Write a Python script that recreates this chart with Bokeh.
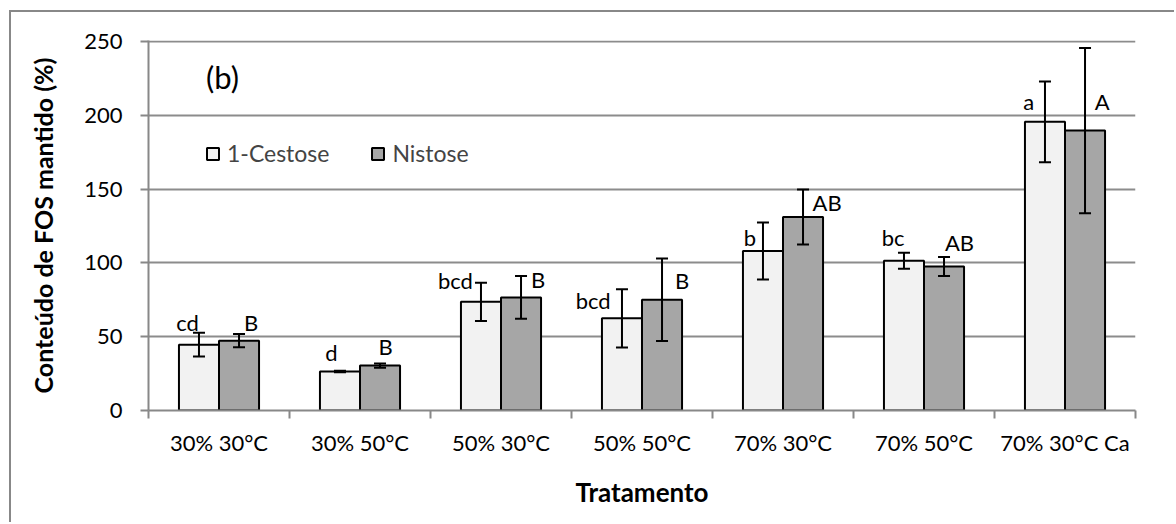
from bokeh.plotting import figure
from bokeh.models import (ColumnDataSource, FixedTicker, Whisker, TeeHead,
                          Label, LabelSet, Range1d)
from bokeh.core.properties import value
from bokeh.embed import file_html
from bokeh.resources import INLINE

# Treatments and retained FOS content (%) with error bars
treatments = ["30% 30°C", "30% 50°C", "50% 30°C", "50% 50°C",
              "70% 30°C", "70% 50°C", "70% 30°C Ca"]
cestose = [44.6, 26.4, 73.6, 62.4, 108.1, 101.4, 195.5]
cestose_err = [8.0, 0.5, 13.0, 19.7, 19.3, 5.4, 27.3]
nistose = [47.3, 30.4, 76.6, 75.0, 131.1, 97.5, 189.6]
nistose_err = [4.5, 1.5, 14.5, 28.0, 18.6, 6.4, 56.0]

# Significance letters (Tukey groups)
cestose_letters = ["cd", "d", "bcd", "bcd", "b", "bc", "a"]
nistose_letters = ["B", "B", "B", "B", "AB", "AB", "A"]

# Anchor points for the letters (x in category units, y in %)
cestose_letter_x = [0.277, 1.298, 2.177, 3.154, 4.265, 5.281, 6.243]
cestose_letter_y = [59.7, 39.4, 87.8, 74.3, 117.1, 116.9, 209.5]
nistose_letter_x = [0.728, 1.681, 2.764, 3.785, 4.813, 5.752, 6.764]
nistose_letter_y = [59.7, 43.4, 89.0, 87.8, 141.2, 113.7, 209.5]

y_ticks = [0, 50, 100, 150, 200, 250]

FONT = "Lato"
BAR_W = 0.284
centers = [i + 0.5 for i in range(len(treatments))]

p = figure(width=1165, height=512, output_backend="svg", toolbar_location=None,
           x_range=Range1d(0, len(treatments)), y_range=Range1d(0, 250.6),
           min_border_left=137, min_border_right=41, min_border_top=28,
           min_border_bottom=114, outline_line_color=None)
# chart-area border: only the top and left edges fall inside the page
p.margin = (10, 0, 0, 9)
p.styles = {"border-top": "2px solid #888888", "border-left": "2px solid #888888"}

src_c = ColumnDataSource(dict(
    x=[c - BAR_W / 2 for c in centers], top=cestose,
    upper=[v + e for v, e in zip(cestose, cestose_err)],
    lower=[v - e for v, e in zip(cestose, cestose_err)]))
src_n = ColumnDataSource(dict(
    x=[c + BAR_W / 2 for c in centers], top=nistose,
    upper=[v + e for v, e in zip(nistose, nistose_err)],
    lower=[v - e for v, e in zip(nistose, nistose_err)]))

p.vbar(x="x", top="top", width=BAR_W, source=src_c, fill_color="#f2f2f2",
       line_color="black", line_width=2, legend_label="1-Cestose")
p.vbar(x="x", top="top", width=BAR_W, source=src_n, fill_color="#a6a6a6",
       line_color="black", line_width=2, legend_label="Nistose")

for src in (src_c, src_n):
    w = Whisker(base="x", upper="upper", lower="lower", source=src,
                line_color="black", line_width=2, level="overlay",
                upper_head=TeeHead(size=12, line_width=2, line_color="black"),
                lower_head=TeeHead(size=12, line_width=2, line_color="black"))
    p.add_layout(w)

lab_c = ColumnDataSource(dict(x=cestose_letter_x, y=cestose_letter_y, t=cestose_letters))
lab_n = ColumnDataSource(dict(x=nistose_letter_x, y=nistose_letter_y, t=nistose_letters))
for src in (lab_c, lab_n):
    p.add_layout(LabelSet(x="x", y="y", text="t", source=src,
                          text_font=value(FONT), text_font_size=value("22px"),
                          text_align="center", text_baseline="middle",
                          text_color="black"))

p.add_layout(Label(x=0.525, y=226, text="(b)", text_font=FONT,
                   text_font_size="31px", text_align="center",
                   text_baseline="middle", text_color="black"))

# x axis: labels at category centres, small ticks at category boundaries
p.xaxis.ticker = FixedTicker(ticks=centers,
                             minor_ticks=list(range(len(treatments) + 1)))
p.xaxis.major_label_overrides = {c: t for c, t in zip(centers, treatments)}
p.xaxis.major_tick_out = 0
p.xaxis.major_tick_in = 0
p.xaxis.minor_tick_out = 8
p.xaxis.minor_tick_in = 0
p.xaxis.minor_tick_line_color = "#888888"
p.xaxis.minor_tick_line_width = 2
p.xaxis.axis_line_color = "#888888"
p.xaxis.axis_line_width = 2
p.xaxis.major_label_standoff = 10
p.xaxis.axis_label = "Tratamento"
p.xaxis.axis_label_standoff = 17

p.yaxis.ticker = FixedTicker(ticks=y_ticks)
p.yaxis.minor_tick_line_color = None
p.yaxis.major_tick_out = 8
p.yaxis.major_tick_in = 0
p.yaxis.major_tick_line_color = "#888888"
p.yaxis.major_tick_line_width = 2
p.yaxis.axis_line_color = "#888888"
p.yaxis.axis_line_width = 2
p.yaxis.major_label_standoff = 18
p.yaxis.axis_label = "Conteúdo de FOS mantido (%)"
p.yaxis.axis_label_standoff = 23

for ax in (p.xaxis, p.yaxis):
    ax.major_label_text_font = FONT
    ax.major_label_text_font_size = "22px"
    ax.major_label_text_color = "black"
    ax.axis_label_text_font = FONT
    ax.axis_label_text_font_style = "bold"
    ax.axis_label_text_color = "black"
p.xaxis.axis_label_text_font_size = "26px"
p.yaxis.axis_label_text_font_size = "25px"

p.xgrid.grid_line_color = None
p.ygrid.ticker = FixedTicker(ticks=y_ticks[1:])
p.ygrid.grid_line_color = "#8c8c8c"
p.ygrid.grid_line_width = 2

p.legend.orientation = "horizontal"
p.legend.location = (57, 243)
p.legend.padding = 0
p.legend.margin = 0
p.legend.spacing = 41
p.legend.glyph_width = 15
p.legend.glyph_height = 15
p.legend.label_standoff = 7
p.legend.label_text_font = FONT
p.legend.label_text_font_size = "23px"
p.legend.border_line_color = None
p.legend.background_fill_alpha = 0

open("out.html", "w").write(file_html(p, INLINE))
